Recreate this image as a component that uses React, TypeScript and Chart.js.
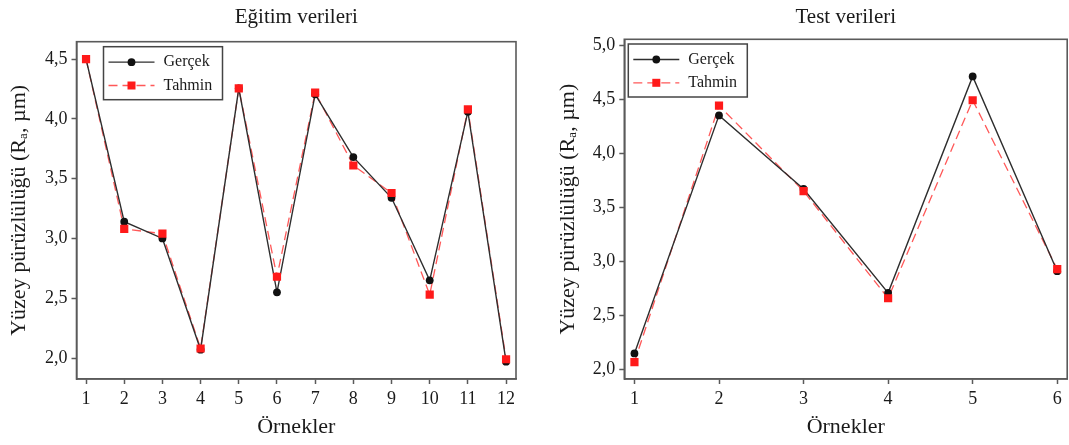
import React, { useEffect, useRef } from 'react';
import { Chart, registerables } from 'chart.js';

Chart.register(...registerables);

// ---- Data ----
const seriesNames = ['Gerçek', 'Tahmin'];
const chartTitles = ['Eğitim verileri', 'Test verileri'];
const xAxisTitle = 'Örnekler';
const yAxisTitle = 'Yüzey pürüzlülüğü (Rₐ, µm)';

const trainSamples = [1, 2, 3, 4, 5, 6, 7, 8, 9, 10, 11, 12];
const trainActual = [4.5, 3.14, 3.0, 2.07, 4.255, 2.55, 4.205, 3.68, 3.34, 2.65, 4.06, 1.97];
const trainPredicted = [4.5, 3.08, 3.04, 2.08, 4.255, 2.68, 4.22, 3.61, 3.38, 2.53, 4.08, 1.99];
const trainYTicks = [2.0, 2.5, 3.0, 3.5, 4.0, 4.5];

const testSamples = [1, 2, 3, 4, 5, 6];
const testActual = [2.15, 4.35, 3.67, 2.71, 4.71, 2.91];
const testPredicted = [2.07, 4.44, 3.65, 2.66, 4.49, 2.93];
const testYTicks = [2.0, 2.5, 3.0, 3.5, 4.0, 4.5, 5.0];

const FONT = "'Liberation Serif', 'Times New Roman', serif";
const AXIS_COLOR = '#5a5a5a';
const TEXT_COLOR = '#1a1a1a';
const BLACK = '#111111';
const LINE_BLACK = '#2e2e2e';
const RED = '#ff1a1a';
const RED_LINE = 'rgba(255,70,70,0.9)';

type Geo = {
  padLeft: number;
  padRight: number;
  yAxisWidth: number;
  titleTop: number;
  titleBottom: number;
  xMin: number;
  xMax: number;
  yMin: number;
  yMax: number;
  legendDx: number;
  legendDy: number;
};

function legendPlugin(geo: Geo) {
  return {
    id: 'boxLegend',
    afterDraw(chart: any) {
      const { ctx, chartArea } = chart;
      const x0 = chartArea.left + geo.legendDx;
      const y0 = chartArea.top + geo.legendDy;
      const w = 119;
      const h = 53;
      ctx.save();
      ctx.fillStyle = '#ffffff';
      ctx.fillRect(x0, y0, w, h);
      ctx.strokeStyle = '#444444';
      ctx.lineWidth = 1.5;
      ctx.strokeRect(x0, y0, w, h);
      const rows = [15.5, 38.8];
      // Gerçek
      ctx.strokeStyle = LINE_BLACK;
      ctx.lineWidth = 1.3;
      ctx.setLineDash([]);
      ctx.beginPath();
      ctx.moveTo(x0 + 5, y0 + rows[0]);
      ctx.lineTo(x0 + 51, y0 + rows[0]);
      ctx.stroke();
      ctx.fillStyle = BLACK;
      ctx.beginPath();
      ctx.arc(x0 + 28, y0 + rows[0], 3.9, 0, Math.PI * 2);
      ctx.fill();
      // Tahmin
      ctx.strokeStyle = RED_LINE;
      ctx.setLineDash([9, 5]);
      ctx.beginPath();
      ctx.moveTo(x0 + 5, y0 + rows[1]);
      ctx.lineTo(x0 + 51, y0 + rows[1]);
      ctx.stroke();
      ctx.setLineDash([]);
      ctx.fillStyle = RED;
      ctx.fillRect(x0 + 28 - 4, y0 + rows[1] - 4, 8, 8);
      // texts
      ctx.fillStyle = TEXT_COLOR;
      ctx.font = `16px ${FONT}`;
      ctx.textBaseline = 'middle';
      ctx.textAlign = 'left';
      ctx.fillText(seriesNames[0], x0 + 60, y0 + rows[0]);
      ctx.fillText(seriesNames[1], x0 + 60, y0 + rows[1]);
      ctx.restore();
    },
  };
}

const framePlugin = {
  id: 'frame',
  afterDatasetsDraw(chart: any) {
    const { ctx, chartArea } = chart;
    ctx.save();
    ctx.strokeStyle = AXIS_COLOR;
    ctx.lineWidth = 1.6;
    ctx.strokeRect(chartArea.left, chartArea.top, chartArea.right - chartArea.left, chartArea.bottom - chartArea.top);
    ctx.restore();
  },
};

const fmt = (v: number) => v.toFixed(1).replace('.', ',');

function makeConfig(
  title: string,
  samples: number[],
  actual: number[],
  predicted: number[],
  yTicks: number[],
  geo: Geo
): any {
  const actualPts = samples.map((s, i) => ({ x: s, y: actual[i] }));
  const predPts = samples.map((s, i) => ({ x: s, y: predicted[i] }));
  return {
    type: 'line',
    data: {
      datasets: [
        {
          label: seriesNames[1] + ' markers',
          data: predPts,
          showLine: false,
          pointStyle: 'rect',
          pointRadius: 5.8,
          pointBackgroundColor: RED,
          pointBorderColor: RED,
          pointBorderWidth: 0,
          order: 0,
        },
        {
          label: seriesNames[0],
          data: actualPts,
          borderColor: LINE_BLACK,
          borderWidth: 1.4,
          pointStyle: 'circle',
          pointRadius: 3.9,
          pointBackgroundColor: BLACK,
          pointBorderColor: BLACK,
          pointBorderWidth: 0,
          tension: 0,
          order: 1,
        },
        {
          label: seriesNames[1],
          data: predPts,
          borderColor: RED_LINE,
          borderWidth: 1.3,
          borderDash: [9, 5],
          pointRadius: 0,
          tension: 0,
          order: 2,
        },
      ],
    },
    options: {
      animation: false,
      responsive: false,
      maintainAspectRatio: false,
      events: [],
      layout: { padding: { left: geo.padLeft, right: geo.padRight, top: 0, bottom: 0 } },
      plugins: {
        legend: { display: false },
        tooltip: { enabled: false },
        title: {
          display: true,
          text: title,
          fullSize: false,
          color: TEXT_COLOR,
          font: { family: FONT, size: 21, weight: 'normal' },
          padding: { top: geo.titleTop, bottom: geo.titleBottom },
        },
      },
      scales: {
        x: {
          type: 'linear',
          min: geo.xMin,
          max: geo.xMax,
          afterBuildTicks: (axis: any) => {
            axis.ticks = samples.map((v) => ({ value: v }));
          },
          afterFit: (axis: any) => {
            axis.height = 66;
            axis.paddingLeft = 0;
            axis.paddingRight = 0;
          },
          grid: {
            display: true,
            drawOnChartArea: false,
            drawTicks: true,
            tickLength: 5,
            tickWidth: 1.5,
            tickColor: AXIS_COLOR,
          },
          border: { display: true, color: AXIS_COLOR, width: 1.6 },
          ticks: {
            autoSkip: false,
            maxRotation: 0,
            padding: 4,
            color: TEXT_COLOR,
            font: { family: FONT, size: 18 },
            callback: (v: any) => String(v),
          },
          title: {
            display: true,
            text: xAxisTitle,
            color: TEXT_COLOR,
            font: { family: FONT, size: 22 },
            padding: { top: 0, bottom: 5 },
          },
        },
        y: {
          type: 'linear',
          min: geo.yMin,
          max: geo.yMax,
          afterBuildTicks: (axis: any) => {
            axis.ticks = yTicks.map((v) => ({ value: v }));
          },
          afterFit: (axis: any) => {
            axis.width = geo.yAxisWidth;
            axis.paddingTop = 0;
            axis.paddingBottom = 0;
          },
          grid: {
            display: true,
            drawOnChartArea: false,
            drawTicks: true,
            tickLength: 5,
            tickWidth: 1.5,
            tickColor: AXIS_COLOR,
          },
          border: { display: true, color: AXIS_COLOR, width: 1.6 },
          ticks: {
            padding: 4,
            color: TEXT_COLOR,
            font: { family: FONT, size: 18 },
            callback: (v: any) => fmt(Number(v)),
          },
          title: {
            display: true,
            text: yAxisTitle,
            color: TEXT_COLOR,
            font: { family: FONT, size: 22 },
            padding: { top: 0, bottom: 0 },
          },
        },
      },
    },
    plugins: [framePlugin, legendPlugin(geo)],
  };
}

const trainGeo: Geo = {
  padLeft: 6,
  padRight: 24,
  yAxisWidth: 70.5,
  titleTop: 4.4,
  titleBottom: 12.1,
  xMin: 0.75,
  xMax: 12.26,
  yMin: 1.825,
  yMax: 4.645,
  legendDx: 27,
  legendDy: 5,
};

const testGeo: Geo = {
  padLeft: 14.6,
  padRight: 1,
  yAxisWidth: 69.7,
  titleTop: 4.4,
  titleBottom: 9.7,
  xMin: 0.88,
  xMax: 6.118,
  yMin: 1.914,
  yMax: 5.053,
  legendDx: 4,
  legendDy: 4.7,
};

function ChartCanvas(props: { config: () => any; left: number; width: number }) {
  const ref = useRef<HTMLCanvasElement | null>(null);
  useEffect(() => {
    if (!ref.current) return;
    const chart = new Chart(ref.current, props.config());
    return () => chart.destroy();
  }, []);
  return (
    <canvas
      ref={ref}
      width={props.width}
      height={445}
      style={{ position: 'absolute', left: props.left, top: 0, width: props.width, height: 445 }}
    />
  );
}

export default function App() {
  return (
    <div
      style={{
        position: 'fixed',
        left: 0,
        top: 0,
        width: 1069,
        height: 445,
        background: '#ffffff',
        overflow: 'hidden',
      }}
    >
      <ChartCanvas
        left={0}
        width={540}
        config={() => makeConfig(chartTitles[0], trainSamples, trainActual, trainPredicted, trainYTicks, trainGeo)}
      />
      <ChartCanvas
        left={540}
        width={533}
        config={() => makeConfig(chartTitles[1], testSamples, testActual, testPredicted, testYTicks, testGeo)}
      />
    </div>
  );
}
